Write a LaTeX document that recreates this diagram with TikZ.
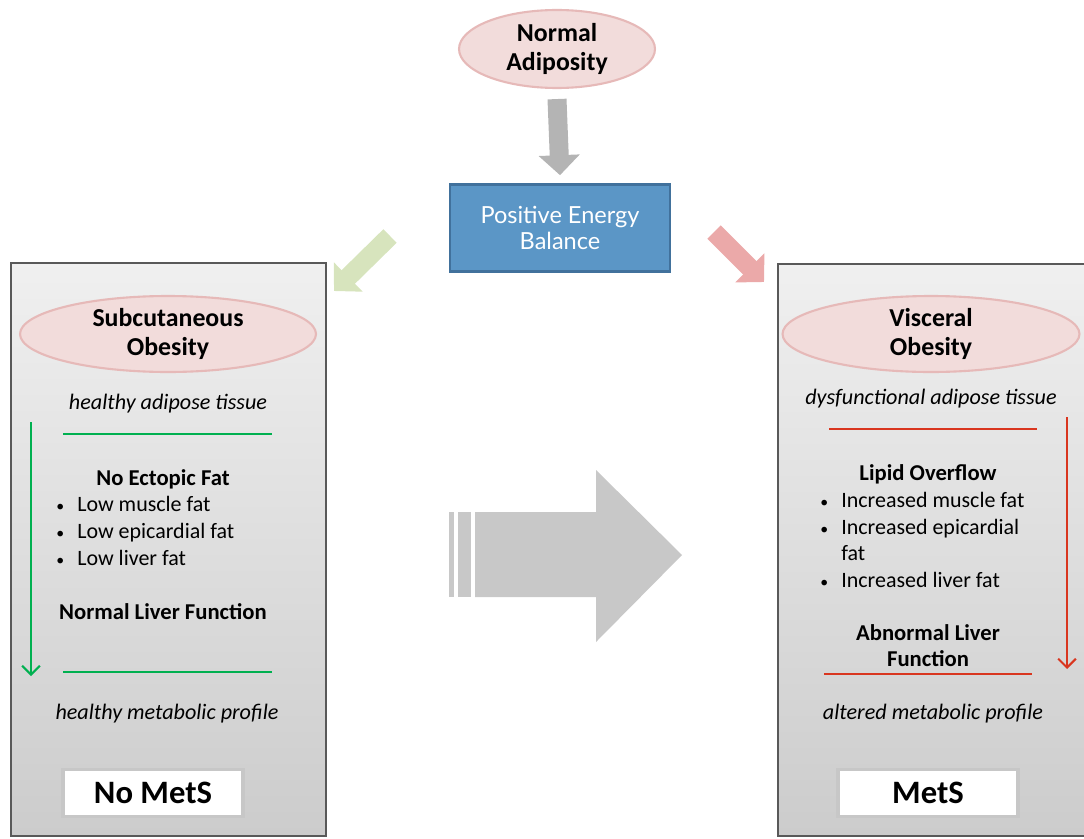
\documentclass[tikz,border=0pt]{standalone}
\usepackage{fontspec}
\setmainfont{Carlito}
\newfontfamily\pebfont{Lato}
\usepackage{xcolor}
\usetikzlibrary{positioning, arrows.meta, shapes.geometric, calc}

\definecolor{ovalfill}{HTML}{F2DCDB}
\definecolor{ovaldraw}{HTML}{E6B9B8}
\definecolor{pebfill}{HTML}{5B96C6}
\definecolor{pebdraw}{HTML}{41719C}
\definecolor{goodline}{HTML}{00B050}
\definecolor{badline}{HTML}{D9361F}
\definecolor{goodarr}{HTML}{D7E4BD}
\definecolor{badarr}{HTML}{EBA9A9}
\definecolor{bigarr}{HTML}{C8C8C8}
\definecolor{downarr}{HTML}{B4B4B4}

\newcommand{\bul}[1]{\makebox[0.42cm][l]{\small\textbullet}#1}

\begin{document}
\begin{tikzpicture}[
    x=0.02cm, y=-0.02cm,
    oval/.style={
        ellipse,
        draw=ovaldraw,
        fill=ovalfill,
        line width=1.2pt,
        inner sep=0pt,
        align=center,
        font=\bfseries\fontsize{14.7}{16.6}\selectfont
    },
    panel/.style={
        rectangle,
        draw=black!65,
        line width=1pt,
        top color=black!6,
        bottom color=black!20,
        anchor=north west
    },
    metsbox/.style={
        rectangle,
        draw=black!22,
        fill=white,
        line width=2pt,
        minimum width=3.6cm,
        minimum height=0.94cm,
        font=\bfseries\fontsize{18.6}{21}\selectfont
    },
    note/.style={font=\itshape\fontsize{12.6}{15}\selectfont},
    head/.style={font=\bfseries\fontsize{12.9}{15}\selectfont, align=center},
    items/.style={font=\fontsize{12.5}{15.2}\selectfont, align=left, inner sep=0pt, anchor=west},
    blockarr/.style={line width=0.38cm, -{Triangle[width=0.8cm, length=0.4cm]}},
    goodflow/.style={goodline, line width=1.2pt, -{Straight Barb[length=5pt, width=10pt]}},
    badflow/.style={badline, line width=1.2pt, -{Straight Barb[length=5pt, width=10pt]}}
]

\clip (0,0) rectangle (1084,838);

\def\xl{168}
\def\xr{931}

% Top
\node[oval, minimum width=3.92cm, minimum height=1.56cm] (normad) at (557,49) {Normal\\Adiposity};
\node[rectangle, draw=pebdraw, fill=pebfill, line width=1.5pt, minimum width=4.4cm, minimum height=1.74cm,
      text=white, align=center, font=\pebfont\fontsize{13.4}{14.8}\selectfont] (peb) at (560,228) {Positive Energy\\Balance};
\draw[blockarr, downarr] ($(normad.south)+(0,10)$) -- ($(peb.north)+(0,-8)$);

% Panels
\node[panel, minimum width=6.3cm, minimum height=11.46cm] (subpanel) at (10,262) {};
\node[panel, minimum width=6.3cm, minimum height=11.44cm] (vispanel) at (777,263) {};

\coordinate (gstart) at (390,236);
\coordinate (gtip) at (334,291);
\coordinate (rstart) at (714,232);
\coordinate (rtip) at (764,282);
\draw[blockarr, goodarr] (gstart) -- (gtip);
\draw[blockarr, badarr] (rstart) -- (rtip);

% Subcutaneous side
\node[oval, minimum width=5.92cm, minimum height=1.52cm] (subob) at (\xl,334) {Subcutaneous\\Obesity};
\node[note] (subtis) at (\xl,404) {healthy adipose tissue};
\draw[goodline, line width=1pt] (63,434) -- (272,434);
\node[head] (noect) at (163,479) {No Ectopic Fat};
\node[items] (sublist) at (56,531) {\bul{Low muscle fat}\\\bul{Low epicardial fat}\\\bul{Low liver fat}};
\node[head] (normliv) at (163,612) {Normal Liver Function};
\draw[goodline, line width=1pt] (63,672) -- (272,672);
\node[note] (submet) at (167,714) {healthy metabolic profile};
\node[metsbox] (nomets) at (153,793) {No MetS};
\coordinate (gtop) at (31,422);
\coordinate (gbot) at (31,676);
\draw[goodflow] (gtop) -- (gbot);

% Visceral side
\node[oval, minimum width=5.94cm, minimum height=1.52cm] (visob) at (\xr,334) {Visceral\\Obesity};
\node[note] (vistis) at (\xr,399) {dysfunctional adipose tissue};
\draw[badline, line width=1pt] (829,429) -- (1037,429);
\node[head] (lipid) at (928,474) {Lipid Overflow};
\node[items] (vislist) at (820,540) {\bul{Increased muscle fat}\\\bul{Increased epicardial}\\\hspace*{0.42cm}fat\\\bul{Increased liver fat}};
\node[head, font=\bfseries\fontsize{12.9}{14.8}\selectfont] (abnliv) at (928,646) {Abnormal Liver\\Function};
\draw[badline, line width=1pt] (824,674) -- (1032,674);
\node[note] (vismet) at (933,714) {altered metabolic profile};
\node[metsbox] (mets) at (928,793) {MetS};
\coordinate (rtop) at (1067,417);
\coordinate (rbot) at (1067,669);
\draw[badflow] (rtop) -- (rbot);

% Middle arrow
\fill[bigarr] (475,512) -- (596,512) -- (596,470) -- (682,555) -- (596,642) -- (596,597) -- (475,597) -- cycle;
\fill[bigarr] (449,512) rectangle (454,597);
\fill[bigarr] (458,512) rectangle (471,597);

\end{tikzpicture}
\end{document}
